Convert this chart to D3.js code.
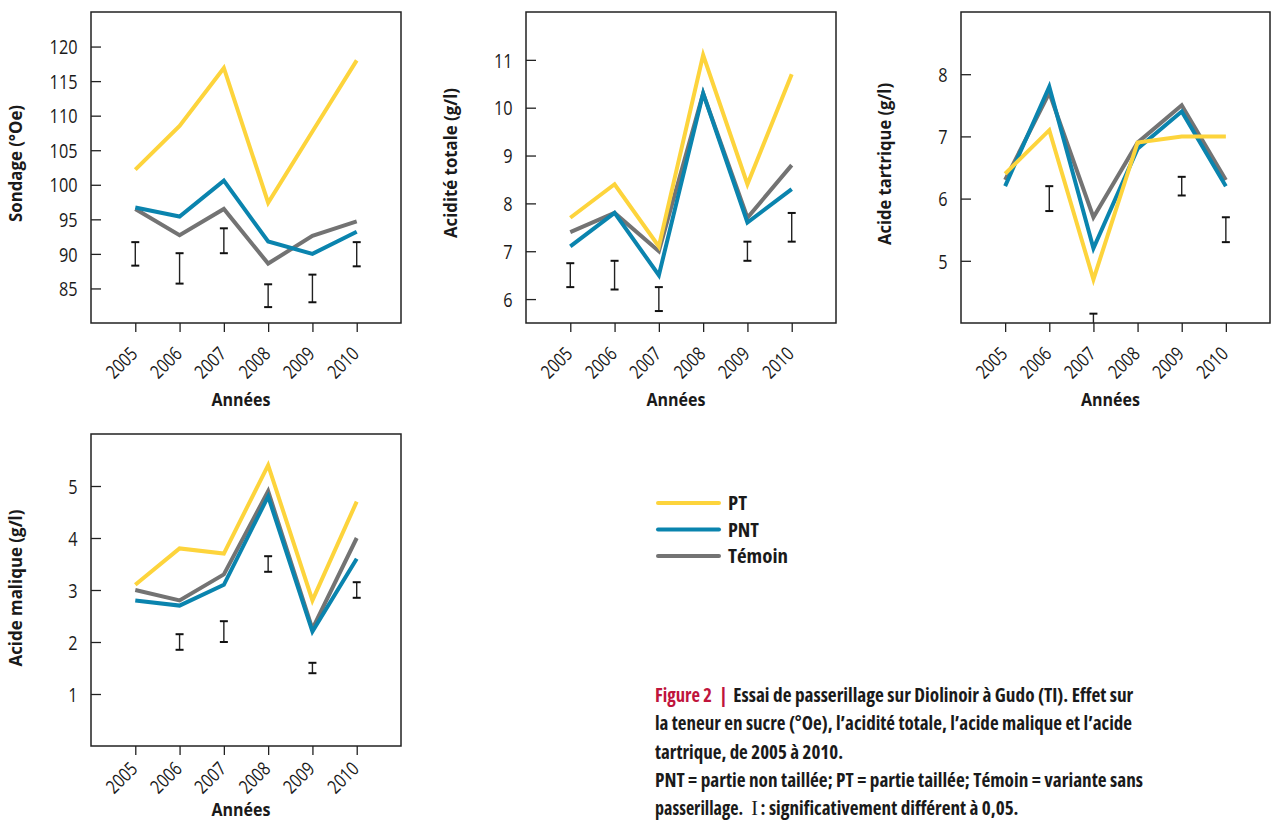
<!DOCTYPE html>
<html><head><meta charset="utf-8">
<script src="https://cdn.jsdelivr.net/npm/d3@7"></script>
<style>
html,body{margin:0;padding:0;background:#fff;}
svg{display:block;}
text{font-family:"Open Sans",sans-serif;fill:#1a1a1a;}
.cond text, text.cond{font-family:"Liberation Sans Narrow","Open Sans",sans-serif;font-stretch:condensed;}
</style></head>
<body>
<svg id="c" width="1271" height="820"></svg>
<script>
const years = [2005, 2006, 2007, 2008, 2009, 2010];
const seriesNames = ["PT", "PNT", "Témoin"];
const seriesColors = ["#FDD43C", "#0A84AE", "#737373"];

const sondagePT = [102.2, 108.5, 116.9, 97.4, 107.7, 118.0];
const sondagePNT = [96.7, 95.4, 100.6, 91.8, 90.0, 93.2];
const sondageTemoin = [96.5, 92.7, 96.5, 88.6, 92.6, 94.7];
const sondageSigLow = [88.3, 85.7, 90.1, 82.3, 83.0, 88.2];
const sondageSigHigh = [91.7, 90.1, 93.7, 85.6, 87.0, 91.7];
const sondageTicks = [85, 90, 95, 100, 105, 110, 115, 120];

const aciditePT = [7.7, 8.4, 7.1, 11.1, 8.4, 10.7];
const aciditePNT = [7.1, 7.8, 6.5, 10.3, 7.6, 8.3];
const aciditeTemoin = [7.4, 7.8, 7.0, 10.3, 7.7, 8.8];
const aciditeSigLow = [6.25, 6.2, 5.75, null, 6.8, 7.2];
const aciditeSigHigh = [6.75, 6.8, 6.25, null, 7.2, 7.8];
const aciditeTicks = [6, 7, 8, 9, 10, 11];

const tartriquePT = [6.4, 7.1, 4.7, 6.9, 7.0, 7.0];
const tartriquePNT = [6.2, 7.8, 5.2, 6.8, 7.4, 6.2];
const tartriqueTemoin = [6.3, 7.7, 5.7, 6.9, 7.5, 6.3];
const tartriqueSigLow = [null, 5.8, 3.7, null, 6.05, 5.3];
const tartriqueSigHigh = [null, 6.2, 4.15, null, 6.35, 5.7];
const tartriqueTicks = [5, 6, 7, 8];

const maliquePT = [3.1, 3.8, 3.7, 5.4, 2.8, 4.7];
const maliquePNT = [2.8, 2.7, 3.1, 4.8, 2.2, 3.6];
const maliqueTemoin = [3.0, 2.8, 3.3, 4.9, 2.25, 4.0];
const maliqueSigLow = [null, 1.85, 2.0, 3.35, 1.4, 2.85];
const maliqueSigHigh = [null, 2.15, 2.4, 3.65, 1.6, 3.15];
const maliqueTicks = [1, 2, 3, 4, 5];

const xLabel = "Années";
const captionLines = [
  "Essai de passerillage sur Diolinoir à Gudo (TI). Effet sur",
  "la teneur en sucre (°Oe), l’acidité totale, l’acide malique et l’acide",
  "tartrique, de 2005 à 2010.",
  "PNT = partie non taillée; PT = partie taillée; Témoin = variante sans",
  ": significativement différent à 0,05."
];

const panels = [
  {label: "Sondage (°Oe)", box: [91, 12, 401, 323], domain: [80, 125], ticks: sondageTicks,
   series: [sondagePT, sondagePNT, sondageTemoin], low: sondageSigLow, high: sondageSigHigh,
   ylab: [22, 163.5, 117], tickOff: 32, labOff: 83},
  {label: "Acidité totale (g/l)", box: [526, 12, 836, 323], domain: [5.5, 12], ticks: aciditeTicks,
   series: [aciditePT, aciditePNT, aciditeTemoin], low: aciditeSigLow, high: aciditeSigHigh,
   ylab: [457, 163, 150], tickOff: 32, labOff: 83},
  {label: "Acide tartrique (g/l)", box: [961, 12, 1270, 323], domain: [4, 9], ticks: tartriqueTicks,
   series: [tartriquePT, tartriquePNT, tartriqueTemoin], low: tartriqueSigLow, high: tartriqueSigHigh,
   ylab: [891, 164, 162], tickOff: 32, labOff: 83},
  {label: "Acide malique (g/l)", box: [91, 434, 401, 746], domain: [0, 6], ticks: maliqueTicks,
   series: [maliquePT, maliquePNT, maliqueTemoin], low: maliqueSigLow, high: maliqueSigHigh,
   ylab: [22, 588, 157], tickOff: 24, labOff: 70}
];

const svg = d3.select("#c");

panels.forEach((p, pi) => {
  const [x0, y0, x1, y1] = p.box;
  const x = d3.scaleLinear().domain([2004, 2011]).range([x0, x1]);
  const y = d3.scaleLinear().domain(p.domain).range([y1, y0]);
  const g = svg.append("g");

  const clipId = "clip" + pi;
  svg.append("clipPath").attr("id", clipId).append("rect")
    .attr("x", x0).attr("y", y0).attr("width", x1 - x0).attr("height", y1 - y0);

  // y axis (ticks inward)
  const ya = g.append("g").attr("transform", `translate(${x0},0)`)
    .call(d3.axisRight(y).tickValues(p.ticks).tickSize(10).tickFormat(d3.format("d")));
  ya.select(".domain").remove();
  ya.selectAll("line").attr("stroke", "#222").attr("stroke-width", 1.3);
  ya.selectAll("text").attr("x", -13.5).attr("dy", "0.36em").attr("text-anchor", "end")
    .style("font-size", "20px").attr("fill", "#1a1a1a")
    .attr("textLength", d => String(d).length * 9.3).attr("lengthAdjust", "spacingAndGlyphs");

  // x axis (ticks outward)
  const xa = g.append("g").attr("transform", `translate(0,${y1})`)
    .call(d3.axisBottom(x).tickValues(years).tickSize(9).tickFormat(d3.format("d")));
  xa.select(".domain").remove();
  xa.selectAll("line").attr("stroke", "#222").attr("stroke-width", 1.3);
  xa.selectAll("text").attr("y", 0).attr("dy", 0)
    .attr("text-anchor", "end")
    .attr("transform", `translate(3,${p.tickOff}) rotate(-45)`)
    .style("font-size", "19px").attr("fill", "#1a1a1a")
    .attr("textLength", 35).attr("lengthAdjust", "spacingAndGlyphs");

  // box
  g.append("rect").attr("x", x0).attr("y", y0).attr("width", x1 - x0).attr("height", y1 - y0)
    .attr("fill", "none").attr("stroke", "#222").attr("stroke-width", 1.5);

  // error bars
  const eb = g.append("g").attr("clip-path", `url(#${clipId})`);
  years.forEach((yr, i) => {
    if (p.low[i] == null) return;
    const cx = x(yr), ya1 = y(p.high[i]), yb = y(p.low[i]);
    eb.append("line").attr("x1", cx).attr("x2", cx).attr("y1", ya1).attr("y2", yb)
      .attr("stroke", "#222").attr("stroke-width", 1.4);
    [ya1, yb].forEach(v => eb.append("line").attr("x1", cx - 4).attr("x2", cx + 4)
      .attr("y1", v).attr("y2", v).attr("stroke", "#111").attr("stroke-width", 2));
  });

  // lines: Témoin, PNT, PT
  const line = d3.line().x((d, i) => x(years[i])).y(d => y(d));
  [2, 1, 0].forEach(si => {
    g.append("path").datum(p.series[si]).attr("d", line)
      .attr("fill", "none").attr("stroke", seriesColors[si]).attr("stroke-width", 4)
      .attr("stroke-linejoin", "miter").attr("stroke-miterlimit", 10);
  });

  // labels
  const [lx, ly, lw] = p.ylab;
  g.append("text").attr("transform", `translate(${lx},${ly}) rotate(-90)`)
    .attr("text-anchor", "middle").style("font-size", "18px").style("font-weight", "bold")
    .attr("textLength", lw).attr("lengthAdjust", "spacingAndGlyphs").text(p.label);
  g.append("text").attr("x", (x(2005) + x(2010)) / 2 - 5).attr("y", y1 + p.labOff)
    .attr("text-anchor", "middle").style("font-size", "18px").style("font-weight", "bold")
    .attr("textLength", 59).attr("lengthAdjust", "spacingAndGlyphs").text(xLabel);
});

// legend
const lg = svg.append("g").attr("class", "cond");
const legendY = d3.scalePoint().domain(seriesNames).range([503, 556]);
const legendW = [19, 31, 60];
seriesNames.forEach((n, i) => {
  lg.append("line").attr("x1", 658).attr("x2", 719).attr("y1", legendY(n)).attr("y2", legendY(n))
    .attr("stroke", seriesColors[i]).attr("stroke-width", 4).attr("stroke-linecap", "round");
  lg.append("text").attr("x", 728).attr("y", legendY(n) + 7)
    .style("font-size", "20px").style("font-weight", "bold")
    .attr("textLength", legendW[i]).attr("lengthAdjust", "spacingAndGlyphs").text(n);
});

// caption
const cap = svg.append("g").attr("class", "cond").style("font-size", "20px").style("font-weight", "bold");
const capX = 655, capY = [701.5, 730, 758.5, 787, 815];
const red = "#C0143C";
cap.append("text").attr("x", capX).attr("y", capY[0]).style("fill", red)
  .attr("textLength", 57).attr("lengthAdjust", "spacingAndGlyphs").text("Figure 2");
cap.append("text").attr("x", 723.5).attr("y", capY[0]).attr("text-anchor", "middle")
  .style("fill", red).text("|");
cap.append("text").attr("x", 733.3).attr("y", capY[0])
  .attr("textLength", 400).attr("lengthAdjust", "spacingAndGlyphs").text(captionLines[0]);
cap.append("text").attr("x", capX).attr("y", capY[1])
  .attr("textLength", 477).attr("lengthAdjust", "spacingAndGlyphs").text(captionLines[1]);
cap.append("text").attr("x", capX).attr("y", capY[2])
  .attr("textLength", 188).attr("lengthAdjust", "spacingAndGlyphs").text(captionLines[2]);
cap.append("text").attr("x", capX).attr("y", capY[3])
  .attr("textLength", 488).attr("lengthAdjust", "spacingAndGlyphs").text(captionLines[3]);
cap.append("text").attr("x", capX).attr("y", capY[4])
  .attr("textLength", 88).attr("lengthAdjust", "spacingAndGlyphs").text("passerillage.");
cap.append("text").attr("x", 754.5).attr("y", capY[4]).attr("text-anchor", "middle")
  .style("font-family", "'Liberation Serif','DejaVu Serif',serif").style("font-stretch", "normal")
  .style("font-weight", "normal").style("font-size", "20px").text("I");
cap.append("text").attr("x", 760.5).attr("y", capY[4])
  .attr("textLength", 258).attr("lengthAdjust", "spacingAndGlyphs").text(captionLines[4]);
</script>
</body></html>
